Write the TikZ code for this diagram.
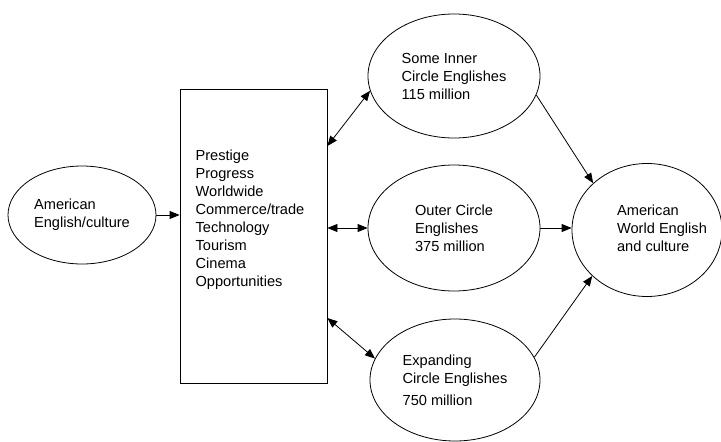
\documentclass[tikz,border=0pt]{standalone}
\usepackage{fontspec}
\setmainfont{Liberation Sans}
\usetikzlibrary{arrows.meta,shapes.geometric}

\begin{document}
\begin{tikzpicture}[x=1pt,y=-1pt,>={Triangle[length=10pt,width=8pt]},line width=.8pt,
  font=\fontsize{14.6}{18}\selectfont,
  ell/.style={draw,ellipse,inner sep=0pt,align=left},
  box/.style={draw,rectangle,inner sep=0pt,minimum width=147pt,minimum height=294pt}]
\useasboundingbox (0,0) rectangle (721,442);
\node[ell,minimum width=148pt,minimum height=98pt] (amer) at (82,215) {American\\English/culture};
\node[box] (attr) at (253.5,236) {};
\node[align=left,inner sep=0pt] (list) at (250,220) {Prestige\\Progress\\Worldwide\\Commerce/trade\\Technology\\Tourism\\Cinema\\Opportunities};
\node[ell,minimum width=172pt,minimum height=124pt] (inner) at (454,76) {Some Inner\\Circle Englishes\\115 million};
\node[ell,minimum width=172pt,minimum height=126pt] (outer) at (454,228) {Outer Circle\\Englishes\\375 million};
\node[ell,minimum width=170pt,minimum height=122pt] (exp) at (455,380) {Expanding\\Circle Englishes\\[4pt]750 million};
\node[ell,minimum width=150pt,minimum height=133pt] (world) at (647,230) {};
\node[align=left,inner sep=0pt] (worldtxt) at (662,228) {American\\World English\\and culture};
\draw[->] (amer.east)--(amer.east -| attr.west);
\draw[<->] ([yshift=90pt]attr.east)--(inner.190);
\draw[<->] (attr.east |- outer.west)--(outer.west);
\draw[<->] ([yshift=-82pt]attr.east)--(exp.165);
\draw[->] (inner.-13)--(world.139);
\draw[->] (outer.east)--(outer.east -| world.west);
\draw[->] (exp.16)--(world.220);
\end{tikzpicture}
\end{document}
